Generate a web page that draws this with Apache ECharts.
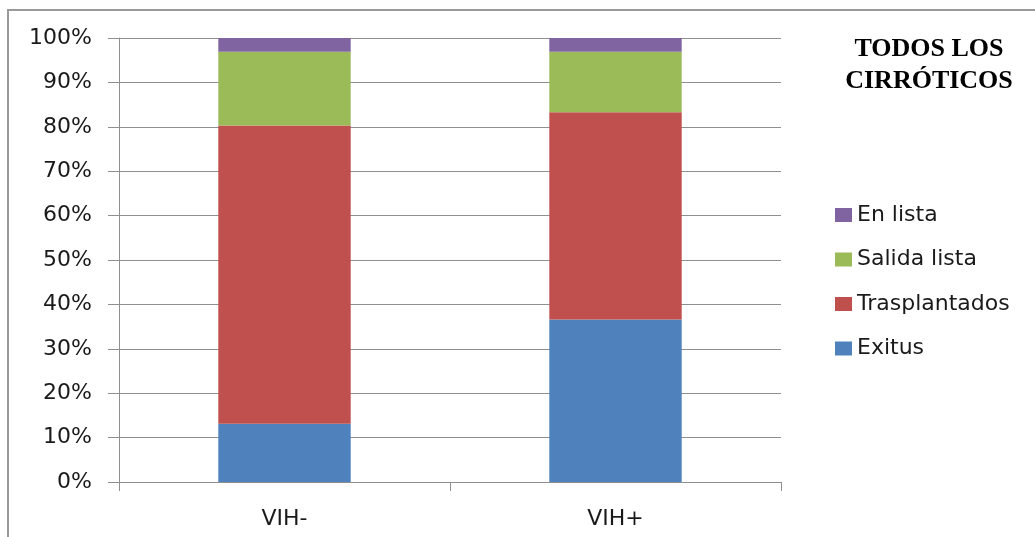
<!DOCTYPE html>
<html>
<head>
<meta charset="utf-8">
<script src="https://cdn.jsdelivr.net/npm/echarts@6/dist/echarts.min.js"></script>
<style>
  html, body { margin: 0; padding: 0; background: #fff; }
  #chart { width: 1035px; height: 537px; }
</style>
</head>
<body>
<div id="chart"></div>
<script>
// Categories and stacked shares (%) per outcome
const categories = ['VIH-', 'VIH+'];
const exitus = [13.1, 36.6];
const trasplantados = [67.2, 46.7];
const salidaLista = [16.6, 13.6];
const enLista = [3.1, 3.1];
const legendOrder = ['En lista', 'Salida lista', 'Trasplantados', 'Exitus'];
const titleLines = ['TODOS LOS', 'CIRRÓTICOS'];

const chart = echarts.init(document.getElementById('chart'));

const axisGray = '#8f8f8f';
const font = 'DejaVu Sans';

function barSeries(name, data, color) {
  return {
    name: name,
    type: 'bar',
    stack: 'total',
    data: data,
    barWidth: '40%',
    itemStyle: { color: color },
    emphasis: { disabled: true }
  };
}

chart.setOption({
  animation: false,
  backgroundColor: '#fff',
  title: {
    text: titleLines.join('\n'),
    left: 924,
    top: 28,
    textAlign: 'center',
    textStyle: {
      fontFamily: 'Liberation Serif',
      fontWeight: 'bold',
      fontSize: 26,
      lineHeight: 32,
      color: '#000'
    }
  },
  legend: {
    orient: 'vertical',
    left: 830,
    top: 199,
    itemWidth: 17,
    itemHeight: 14,
    itemGap: 22.5,
    data: legendOrder,
    icon: 'rect',
    textStyle: {
      fontFamily: font,
      fontSize: 22,
      lineHeight: 22,
      color: '#1a1a1a'
    }
  },
  grid: {
    left: 119,
    top: 38,
    width: 662,
    bottom: 55
  },
  xAxis: {
    type: 'category',
    data: categories,
    axisLine: { lineStyle: { color: axisGray, width: 1 } },
    axisTick: { show: true, length: 9, lineStyle: { color: axisGray } },
    axisLabel: {
      margin: 26,
      fontFamily: font,
      fontSize: 22,
      color: '#1a1a1a'
    }
  },
  yAxis: {
    type: 'value',
    min: 0,
    max: 100,
    interval: 10,
    axisLine: { show: true, lineStyle: { color: axisGray, width: 1 } },
    axisTick: { show: true, length: 11, lineStyle: { color: axisGray } },
    splitLine: { lineStyle: { color: axisGray, width: 1 } },
    axisLabel: {
      formatter: '{value}%',
      margin: 27,
      fontFamily: font,
      fontSize: 22,
      color: '#1a1a1a'
    }
  },
  graphic: [
    {
      type: 'polyline',
      shape: { points: [[8, 537], [8, 10], [1035, 10]] },
      style: { stroke: '#9a9a9a', lineWidth: 2, fill: null },
      silent: true
    }
  ],
  series: [
    barSeries('Exitus', exitus, '#4F81BD'),
    barSeries('Trasplantados', trasplantados, '#C0504D'),
    barSeries('Salida lista', salidaLista, '#9BBB59'),
    barSeries('En lista', enLista, '#8064A2')
  ]
});
</script>
</body>
</html>
